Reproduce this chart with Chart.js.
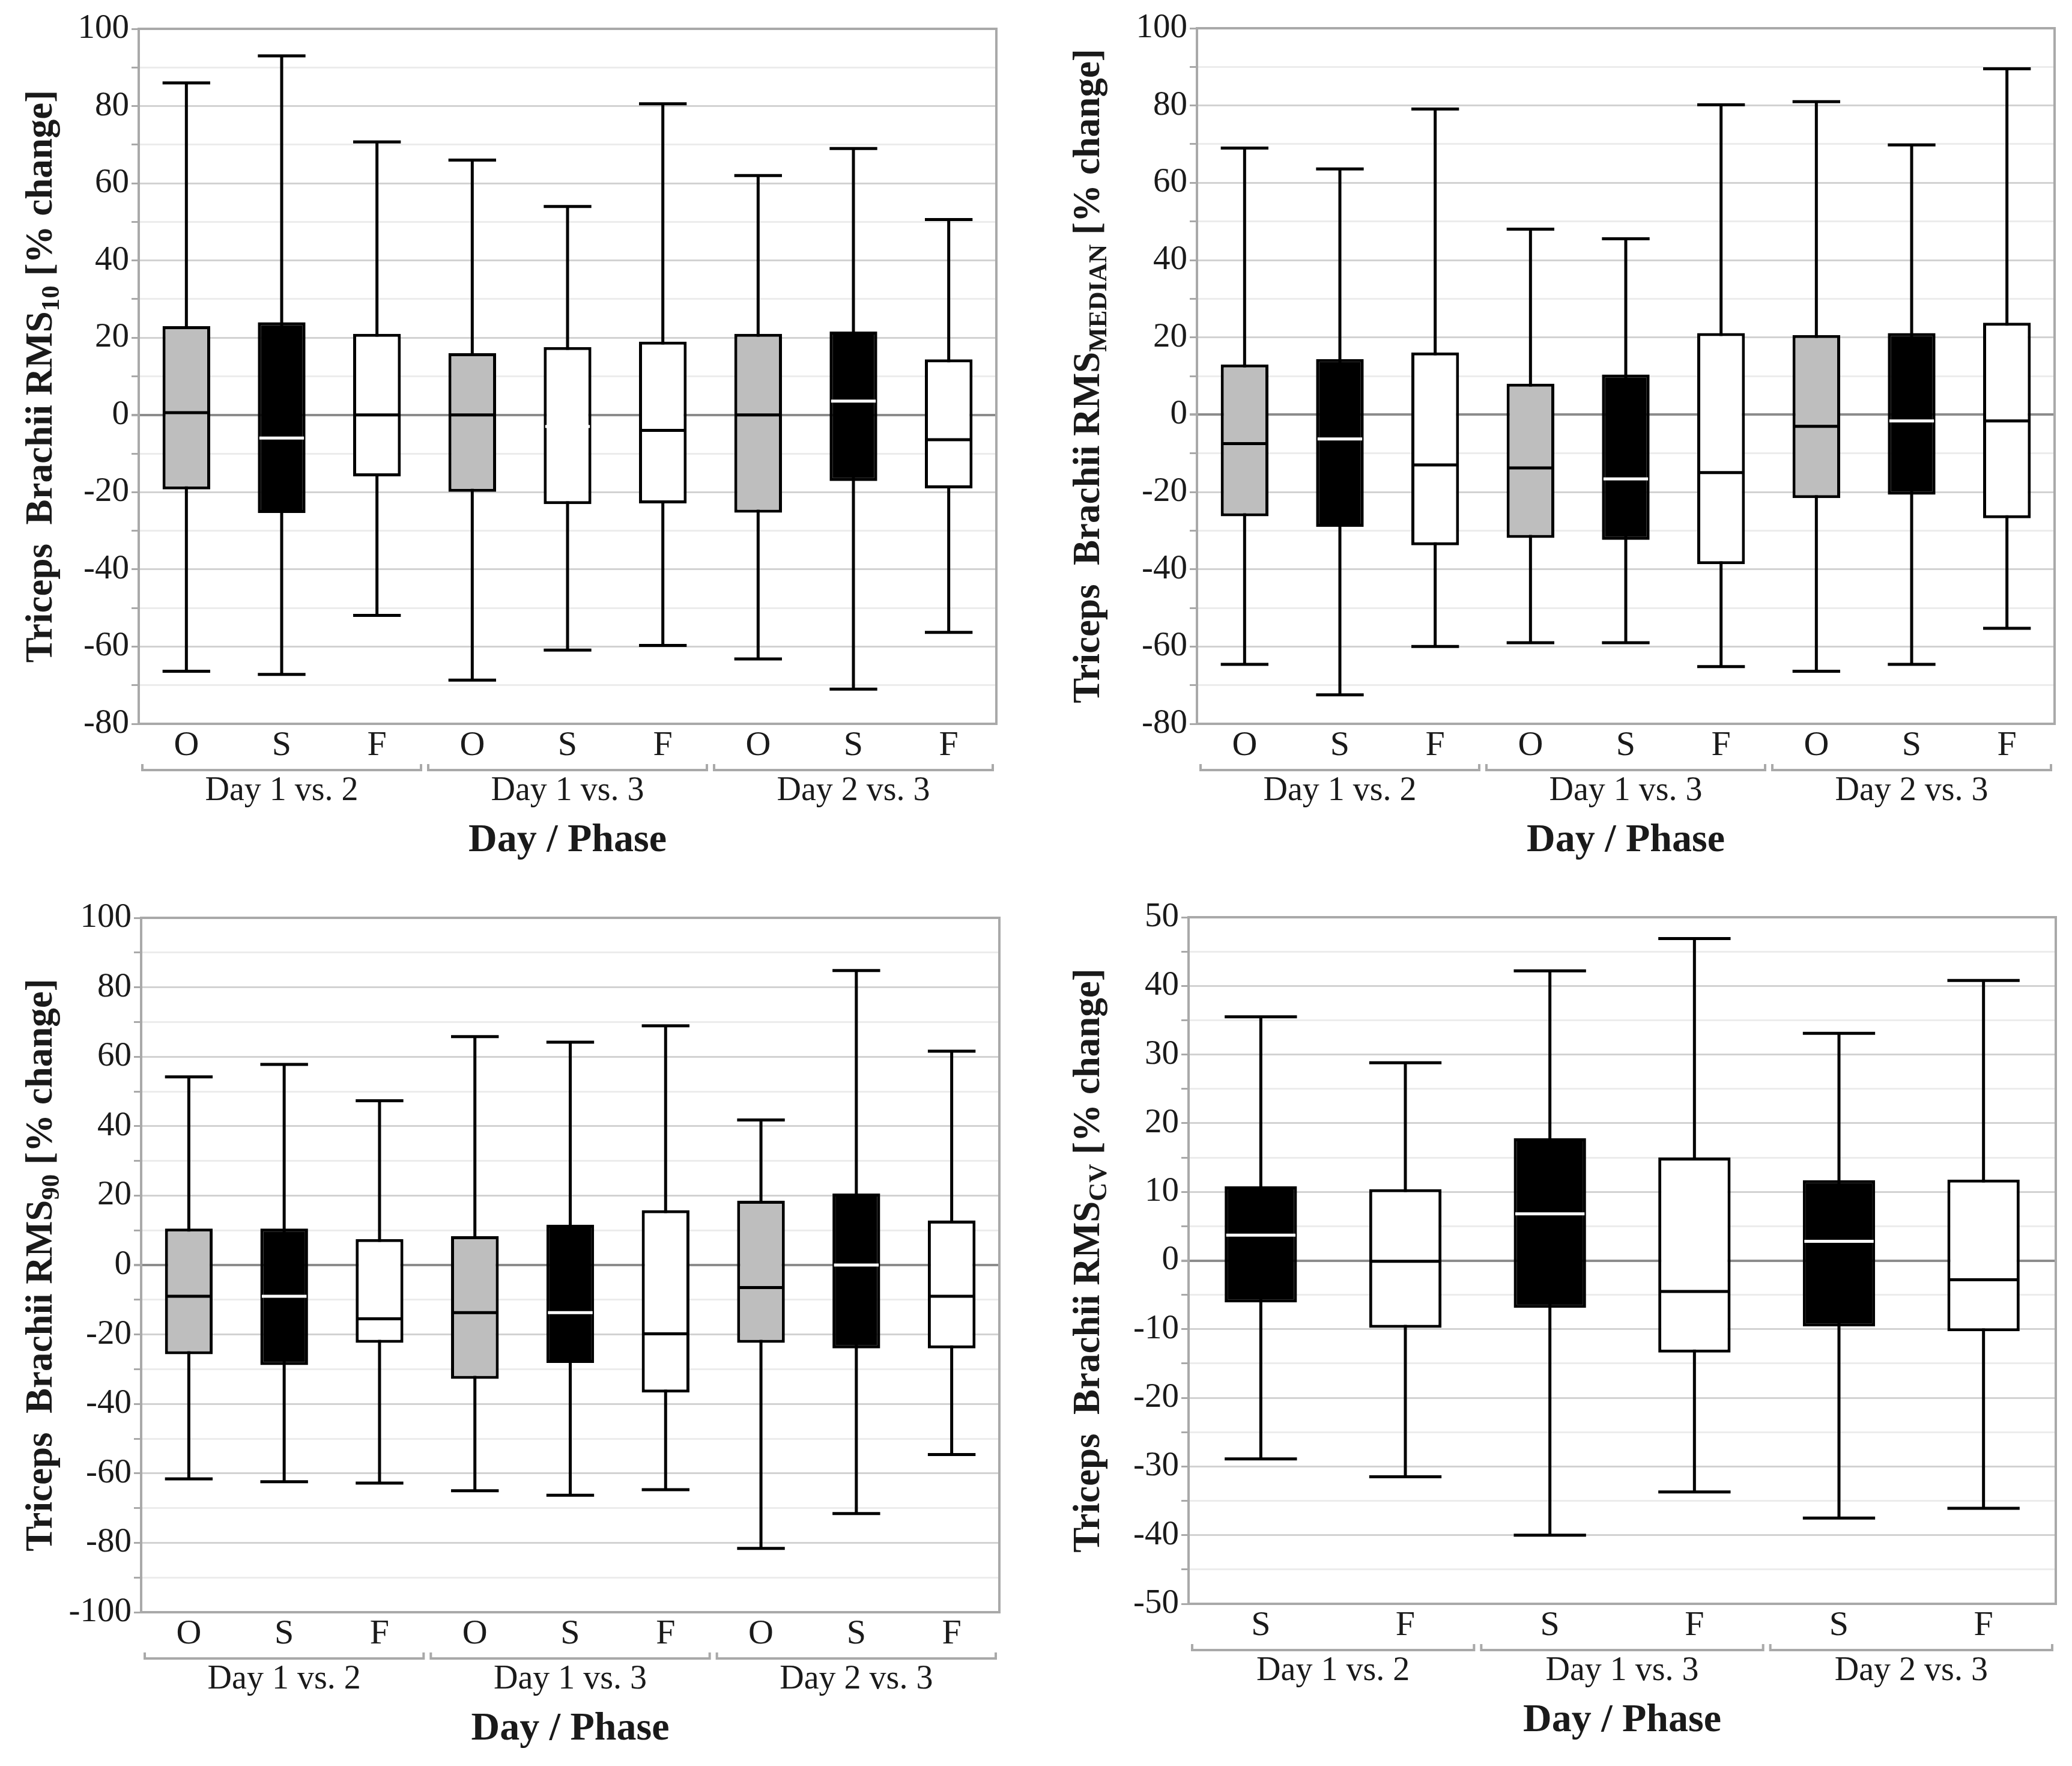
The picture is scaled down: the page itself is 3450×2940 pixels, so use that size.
<!DOCTYPE html>
<html>
<head>
<meta charset="utf-8">
<script src="https://cdn.jsdelivr.net/npm/chart.js@4.4.0/dist/chart.umd.min.js"></script>
<style>
    html, body { margin: 0; padding: 0; background: #fff; }
    #wrap { position: relative; width: 3450px; height: 2940px; background: #fff; }
    canvas { position: absolute; }
</style>
</head>
<body>
<div id="wrap">
    <canvas id="chartRms10" width="1725" height="1470" style="left:0;top:0;width:1725px;height:1470px"></canvas>
    <canvas id="chartRmsMedian" width="1725" height="1470" style="left:1725px;top:0;width:1725px;height:1470px"></canvas>
    <canvas id="chartRms90" width="1725" height="1470" style="left:0;top:1470px;width:1725px;height:1470px"></canvas>
    <canvas id="chartRmsCv" width="1725" height="1470" style="left:1725px;top:1470px;width:1725px;height:1470px"></canvas>
</div>
<script>
// Categories
const phases3 = ['O', 'S', 'F', 'O', 'S', 'F', 'O', 'S', 'F'];
const phases2 = ['S', 'F', 'S', 'F', 'S', 'F'];
const dayGroups = ['Day 1 vs. 2', 'Day 1 vs. 3', 'Day 2 vs. 3'];

// RMS10 (% change)
const rms10Max    = [86, 93, 70.7, 66, 54, 80.6, 62, 69, 50.6];
const rms10Q3     = [23, 24, 21, 16, 17.6, 19, 21, 21.6, 14.4];
const rms10Median = [0.6, -6, 0, 0, -3, -4, 0, 3.6, -6.4];
const rms10Q1     = [-19.3, -25.4, -15.9, -19.9, -23.1, -22.9, -25.3, -17.1, -19];
const rms10Min    = [-66.4, -67.2, -51.9, -68.7, -60.9, -59.7, -63.2, -71, -56.3];

// RMS MEDIAN (% change)
const rmsMedMax    = [69, 63.6, 79.1, 48, 45.5, 80.2, 81, 69.8, 89.5];
const rmsMedQ3     = [13, 14.4, 16.1, 8, 10.4, 21.1, 20.6, 21.1, 23.8];
const rmsMedMedian = [-7.5, -6.3, -13, -13.8, -16.6, -15, -3, -1.6, -1.6];
const rmsMedQ1     = [-26.3, -29, -33.8, -31.9, -32.4, -38.7, -21.6, -20.7, -26.8];
const rmsMedMin    = [-64.6, -72.5, -60, -59, -59, -65.2, -66.4, -64.6, -55.3];

// RMS90 (% change)
const rms90Max    = [54.2, 57.8, 47.3, 65.8, 64.2, 68.9, 41.8, 84.8, 61.6];
const rms90Q3     = [10.5, 10.5, 7.5, 8.3, 11.6, 15.8, 18.5, 20.6, 12.8];
const rms90Median = [-9, -9, -15.5, -13.7, -13.7, -19.8, -6.5, 0, -9];
const rms90Q1     = [-25.7, -28.8, -22.4, -32.8, -28.2, -36.7, -22.4, -24, -24];
const rms90Min    = [-61.6, -62.4, -62.8, -65, -66.3, -64.7, -81.6, -71.6, -54.6];

// RMS CV (% change)
const rmsCvMax    = [35.5, 28.8, 42.2, 46.9, 33.1, 40.8];
const rmsCvQ3     = [10.8, 10.4, 17.8, 15, 11.7, 11.8];
const rmsCvMedian = [3.7, -0.1, 6.8, -4.5, 2.8, -2.8];
const rmsCvQ1     = [-6.1, -9.8, -6.9, -13.4, -9.6, -10.3];
const rmsCvMin    = [-28.9, -31.5, -40, -33.7, -37.5, -36.1];

const GRAY = '#bebebe';
const BLACK = '#000000';
const WHITE = '#ffffff';
const FONT = "'Liberation Serif', 'DejaVu Serif', serif";

// Draws whiskers, caps, medians, frame, day brackets and axis titles
function makeBoxPlugin(panel) {
    return {
        id: 'boxPlot_' + panel.id,
        beforeDatasetsDraw(chart) {
            const { ctx } = chart;
            const y = chart.scales.y;
            const meta = chart.getDatasetMeta(0);
            ctx.save();
            ctx.strokeStyle = '#000';
            ctx.lineWidth = 5;
            meta.data.forEach((bar, i) => {
                const half = bar.width / 2;
                const yMax = y.getPixelForValue(panel.max[i]);
                const yMin = y.getPixelForValue(panel.min[i]);
                ctx.beginPath();
                ctx.moveTo(bar.x, yMax);
                ctx.lineTo(bar.x, yMin);
                ctx.moveTo(bar.x - half, yMax);
                ctx.lineTo(bar.x + half, yMax);
                ctx.moveTo(bar.x - half, yMin);
                ctx.lineTo(bar.x + half, yMin);
                ctx.stroke();
            });
            ctx.restore();
        },
        afterDatasetsDraw(chart) {
            const { ctx } = chart;
            const y = chart.scales.y;
            const meta = chart.getDatasetMeta(0);
            ctx.save();
            ctx.lineWidth = 5;
            meta.data.forEach((bar, i) => {
                const half = bar.width / 2 - 2.5;
                const ym = y.getPixelForValue(panel.median[i]);
                ctx.strokeStyle = panel.medianColor[i];
                ctx.beginPath();
                ctx.moveTo(bar.x - half, ym);
                ctx.lineTo(bar.x + half, ym);
                ctx.stroke();
            });
            ctx.restore();
        },
        afterDraw(chart) {
            const { ctx, chartArea } = chart;
            const x = chart.scales.x;
            ctx.save();

            // plot frame
            ctx.strokeStyle = '#a9a9a9';
            ctx.lineWidth = 4;
            ctx.strokeRect(chartArea.left, chartArea.top,
                chartArea.right - chartArea.left, chartArea.bottom - chartArea.top);

            // day brackets and labels
            const per = panel.labels.length / dayGroups.length;
            const catW = x.getPixelForValue(1) - x.getPixelForValue(0);
            const by = chartArea.bottom + 77;
            ctx.strokeStyle = '#a9a9a9';
            ctx.lineWidth = 4;
            ctx.fillStyle = '#1a1a1a';
            ctx.font = '56px ' + FONT;
            ctx.textAlign = 'center';
            ctx.textBaseline = 'middle';
            dayGroups.forEach((g, gi) => {
                const x0 = x.getPixelForValue(gi * per) - catW / 2 + 6;
                const x1 = x.getPixelForValue(gi * per + per - 1) + catW / 2 - 6;
                ctx.beginPath();
                ctx.moveTo(x0, by - 10);
                ctx.lineTo(x0, by);
                ctx.lineTo(x1, by);
                ctx.lineTo(x1, by - 10);
                ctx.stroke();
                ctx.fillText(g, (x0 + x1) / 2, chartArea.bottom + 112);
            });

            // x title
            ctx.font = 'bold 66px ' + FONT;
            ctx.fillText('Day / Phase', (chartArea.left + chartArea.right) / 2, chartArea.bottom + 195);

            // y title with subscript
            const main = 'Triceps  Brachii RMS';
            const tail = ' [% change]';
            const bigFont = 'bold 63px ' + FONT;
            const subFont = 'bold 43px ' + FONT;
            ctx.font = bigFont;
            const wMain = ctx.measureText(main).width;
            const wTail = ctx.measureText(tail).width;
            ctx.font = subFont;
            const wSub = ctx.measureText(panel.sub).width;
            const total = wMain + wSub + wTail;
            ctx.translate(chartArea.left - panel.titleOffset, (chartArea.top + chartArea.bottom) / 2);
            ctx.rotate(-Math.PI / 2);
            ctx.textAlign = 'left';
            ctx.textBaseline = 'alphabetic';
            let cx = -total / 2;
            ctx.font = bigFont;
            ctx.fillText(main, cx, 21);
            cx += wMain;
            ctx.font = subFont;
            ctx.fillText(panel.sub, cx, 33);
            cx += wSub;
            ctx.font = bigFont;
            ctx.fillText(tail, cx, 21);
            ctx.restore();
        }
    };
}

function createBoxChart(panel) {
    const canvas = document.getElementById(panel.id);
    const H = canvas.height;
    return new Chart(canvas, {
        type: 'bar',
        data: {
            labels: panel.labels,
            datasets: [{
                data: panel.q1.map((v, i) => [v, panel.q3[i]]),
                backgroundColor: panel.fill,
                borderColor: '#000',
                borderWidth: 5,
                borderSkipped: false,
                barPercentage: 0.5,
                categoryPercentage: 1.0
            }]
        },
        options: {
            responsive: false,
            devicePixelRatio: 1,
            animation: false,
            layout: {
                padding: { left: 0, top: panel.area.top, right: canvas.width - panel.area.right, bottom: 0 }
            },
            plugins: {
                legend: { display: false },
                tooltip: { enabled: false }
            },
            scales: {
                x: {
                    grid: { display: false, drawTicks: false },
                    border: { display: false },
                    ticks: {
                        font: { family: FONT, size: 58 },
                        color: '#1a1a1a',
                        padding: 2,
                        maxRotation: 0,
                        autoSkip: false
                    },
                    afterFit: (s) => { s.height = H - panel.area.bottom; }
                },
                y: {
                    min: panel.yMin,
                    max: panel.yMax,
                    ticks: {
                        stepSize: panel.yStep,
                        autoSkip: false,
                        font: { family: FONT, size: 57 },
                        color: '#1a1a1a',
                        padding: 4,
                        callback: (v) => (v % panel.labelStep === 0 ? v : '')
                    },
                    grid: {
                        color: (c) => {
                            const v = c.tick.value;
                            if (v === 0) return '#8c8c8c';
                            return v % panel.labelStep === 0 ? '#d2d2d2' : '#ececec';
                        },
                        lineWidth: (c) => (c.tick.value === 0 ? 4 : 3),
                        tickColor: '#a9a9a9',
                        tickLength: 12
                    },
                    border: { color: '#a9a9a9', width: 4 },
                    afterFit: (s) => { s.width = panel.area.left; }
                }
            }
        },
        plugins: [makeBoxPlugin(panel)]
    });
}

const fill3 = [GRAY, BLACK, WHITE, GRAY, BLACK, WHITE, GRAY, BLACK, WHITE];
const median3 = [BLACK, WHITE, BLACK, BLACK, WHITE, BLACK, BLACK, WHITE, BLACK];

createBoxChart({
    id: 'chartRms10', labels: phases3,
    max: rms10Max, q3: rms10Q3, median: rms10Median, q1: rms10Q1, min: rms10Min,
    fill: [GRAY, BLACK, WHITE, GRAY, WHITE, WHITE, GRAY, BLACK, WHITE],
    medianColor: [BLACK, WHITE, BLACK, BLACK, WHITE, BLACK, BLACK, WHITE, BLACK],
    yMin: -80, yMax: 100, yStep: 10, labelStep: 20,
    sub: '10', titleOffset: 166,
    area: { left: 231, top: 48, right: 1659, bottom: 1205 }
});

createBoxChart({
    id: 'chartRmsMedian', labels: phases3,
    max: rmsMedMax, q3: rmsMedQ3, median: rmsMedMedian, q1: rmsMedQ1, min: rmsMedMin,
    fill: fill3, medianColor: median3,
    yMin: -80, yMax: 100, yStep: 10, labelStep: 20,
    sub: 'MEDIAN', titleOffset: 184,
    area: { left: 268, top: 47, right: 1696, bottom: 1205 }
});

createBoxChart({
    id: 'chartRms90', labels: phases3,
    max: rms90Max, q3: rms90Q3, median: rms90Median, q1: rms90Q1, min: rms90Min,
    fill: fill3, medianColor: median3,
    yMin: -100, yMax: 100, yStep: 10, labelStep: 20,
    sub: '90', titleOffset: 170,
    area: { left: 235, top: 58, right: 1664, bottom: 1214 }
});

createBoxChart({
    id: 'chartRmsCv', labels: phases2,
    max: rmsCvMax, q3: rmsCvQ3, median: rmsCvMedian, q1: rmsCvQ1, min: rmsCvMin,
    fill: [BLACK, WHITE, BLACK, WHITE, BLACK, WHITE],
    medianColor: [WHITE, BLACK, WHITE, BLACK, WHITE, BLACK],
    yMin: -50, yMax: 50, yStep: 5, labelStep: 10,
    sub: 'CV', titleOffset: 170,
    area: { left: 254, top: 57, right: 1698, bottom: 1200 }
});
</script>
</body>
</html>
